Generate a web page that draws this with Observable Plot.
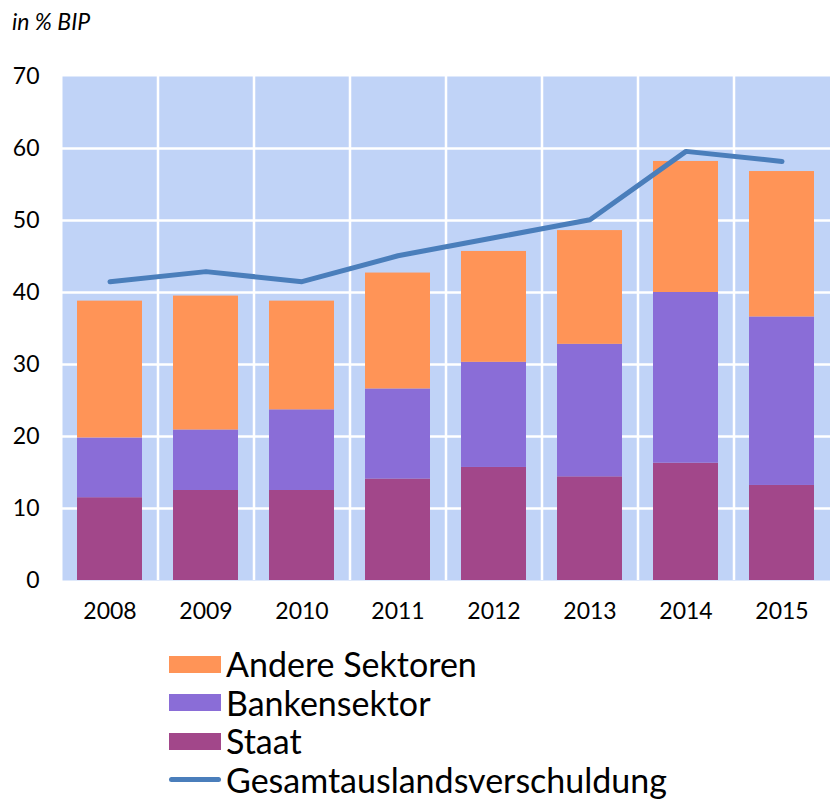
<!DOCTYPE html>
<html><head><meta charset="utf-8">
<script src="https://cdn.jsdelivr.net/npm/d3@7"></script>
<script src="https://cdn.jsdelivr.net/npm/@observablehq/plot@0.6"></script>
<style>
body{margin:0;background:#fff;font-family:Lato,"Open Sans",sans-serif;color:#000;}
#wrap{position:relative;width:830px;height:802px;overflow:hidden;}
#title{position:absolute;left:12px;top:7px;font-style:italic;font-size:23px;}
#chart{position:absolute;left:0;top:0;}
#legend{position:absolute;left:169px;top:645px;}
.row{display:flex;align-items:center;height:38.5px;font-size:34px;line-height:1;}
.sw{width:52px;height:17px;margin-right:5px;}
.ln{width:52px;height:5px;border-radius:3px;margin-right:5px;}
</style></head>
<body>
<div id="wrap">
<div id="chart"></div>
<div id="title">in % BIP</div>
<div id="legend"></div>
</div>
<script>
const years = ["2008","2009","2010","2011","2012","2013","2014","2015"];
const staat = [11.5,12.5,12.5,14.1,15.7,14.4,16.3,13.2];
const banken = [8.3,8.4,11.2,12.5,14.6,18.4,23.7,23.4];
const andere = [19.0,18.6,15.1,16.1,15.4,15.8,18.2,20.2];
const gesamt = [41.5,42.9,41.5,45.1,47.6,50.1,59.6,58.2];
const seriesNames = ["Staat","Bankensektor","Andere Sektoren"];
const seriesColors = ["#a2478a","#8a6dd7","#ff9457"];
const lineName = "Gesamtauslandsverschuldung";
const lineColor = "#4a7ebb";
const yTicks = [0,10,20,30,40,50,60,70];

const rows = [];
years.forEach((y,i)=>{
  rows.push({year:y, series:"Staat", value:staat[i]});
  rows.push({year:y, series:"Bankensektor", value:banken[i]});
  rows.push({year:y, series:"Andere Sektoren", value:andere[i]});
});
const lineData = years.map((y,i)=>({year:y, value:gesamt[i]}));

const W = 830, ML = 62, MR = 0;
const step = (W - ML - MR) / years.length;

const chart = Plot.plot({
  width: W, height: 640,
  marginLeft: ML, marginRight: MR, marginTop: 76, marginBottom: 60,
  style: {fontFamily: "Lato, 'Open Sans', sans-serif", fontSize: "23px", color: "#000", background: "transparent"},
  x: {domain: years, paddingInner: 0.32, paddingOuter: 0.16, label: null, tickSize: 0, tickPadding: 22},
  y: {domain: [0,70], ticks: yTicks, label: null, tickSize: 0, tickPadding: 23},
  color: {domain: seriesNames, range: seriesColors},
  marks: [
    Plot.frame({fill: "#c0d3f7", stroke: null}),
    Plot.ruleY(yTicks.filter(t => t > 0 && t < 70), {stroke: "#fff", strokeWidth: 2.5}),
    Plot.ruleX(years.slice(0,-1), {x: d => d, dx: step/2, stroke: "#fff", strokeWidth: 2.5}),
    Plot.barY(rows, Plot.stackY({x: "year", y: "value", fill: "series", order: seriesNames})),
    Plot.line(lineData, {x: "year", y: "value", stroke: lineColor, strokeWidth: 5, strokeLinecap: "round", strokeLinejoin: "round"})
  ]
});
document.getElementById("chart").appendChild(chart);

const legendItems = [
  {name:"Andere Sektoren", color:"#ff9457", type:"box"},
  {name:"Bankensektor", color:"#8a6dd7", type:"box"},
  {name:"Staat", color:"#a2478a", type:"box"},
  {name:lineName, color:lineColor, type:"line"}
];
const leg = document.getElementById("legend");
legendItems.forEach(it=>{
  const r = document.createElement("div"); r.className="row";
  const s = document.createElement("div"); s.className = it.type==="box" ? "sw" : "ln";
  s.style.background = it.color;
  const t = document.createElement("span"); t.textContent = it.name;
  r.appendChild(s); r.appendChild(t); leg.appendChild(r);
});
</script>
</body></html>
